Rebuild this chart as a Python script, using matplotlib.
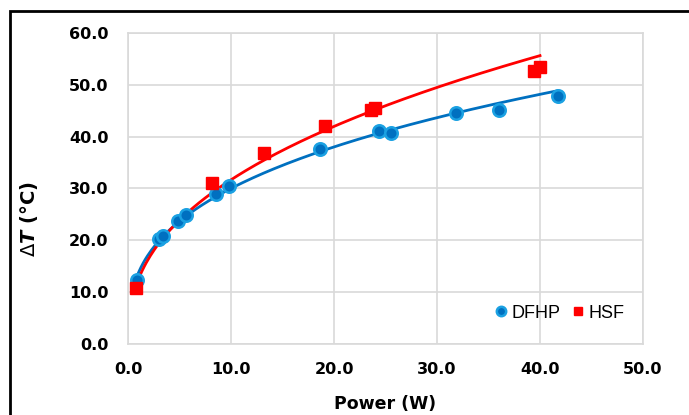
import numpy as np
import matplotlib
matplotlib.use('Agg')
import matplotlib.pyplot as plt
from matplotlib.patches import Rectangle

# DFHP data (power in W, temperature rise in °C)
dfhp_power = [0.85, 3.0, 3.35, 4.9, 5.6, 8.5, 9.8, 18.6, 24.4, 25.5, 31.8, 36.0, 41.7]
dfhp_dt = [12.4, 20.2, 20.8, 23.8, 24.9, 28.9, 30.4, 37.6, 41.1, 40.7, 44.6, 45.1, 47.9]

# HSF data
hsf_power = [0.8, 8.2, 13.2, 19.1, 23.6, 24.0, 39.4, 40.0]
hsf_dt = [10.9, 31.0, 36.9, 42.1, 45.1, 45.5, 52.6, 53.4]

plt.rcParams['font.family'] = ['DejaVu Sans']
plt.rcParams['mathtext.fontset'] = 'custom'
plt.rcParams['mathtext.rm'] = 'DejaVu Sans'
plt.rcParams['mathtext.it'] = 'DejaVu Sans:italic:bold'
plt.rcParams['mathtext.bf'] = 'DejaVu Sans:bold'

fig = plt.figure(figsize=(6.89, 4.15), dpi=100)
ax = fig.add_axes([128 / 689, 71 / 415, 515 / 689, 311 / 415])


def power_fit(x, y):
    # Excel-style power trendline: y = a * x^b
    b, loga = np.polyfit(np.log(x), np.log(y), 1)
    xs = np.linspace(min(x), max(x), 200)
    return xs, np.exp(loga) * xs ** b


blue = '#0070C0'
red = '#FF0000'

xs, ys = power_fit(dfhp_power, dfhp_dt)
ax.plot(xs, ys, color=blue, lw=2, zorder=2)
xs, ys = power_fit(hsf_power, hsf_dt)
ax.plot(xs, ys, color=red, lw=2, zorder=2)

ax.plot(dfhp_power, dfhp_dt, 'o', ms=9, mfc=blue, mec='#1BA1E2', mew=1.8,
        label='DFHP', zorder=3, linestyle='none')
ax.plot(hsf_power, hsf_dt, 's', ms=8, mfc=red, mec=red,
        label='HSF', zorder=3, linestyle='none')

ax.set_xlim(0, 50)
ax.set_ylim(0, 60)
ax.set_xticks(np.arange(0, 51, 10))
ax.set_yticks(np.arange(0, 61, 10))
ax.set_xticklabels(['%.1f' % v for v in np.arange(0, 51, 10)])
ax.set_yticklabels(['%.1f' % v for v in np.arange(0, 61, 10)])
ax.tick_params(length=0, labelsize=11.5, pad=14)
for lab in ax.get_xticklabels() + ax.get_yticklabels():
    lab.set_fontweight('bold')
ax.tick_params(axis='x', pad=13)

ax.grid(True, color='#D9D9D9', lw=1.2)
ax.set_axisbelow(True)
for s in ax.spines.values():
    s.set_color('#D9D9D9')
    s.set_linewidth(1.2)

ax.set_xlabel('Power (W)', fontsize=12.5, fontweight='bold', labelpad=13)
fig.text(28.5 / 689, 1 - 219 / 415, r'$\mathrm{\Delta}\mathit{T}$ (°C)', rotation=90,
         fontsize=14, fontweight='bold', ha='center', va='center')

leg = ax.legend(loc='lower right', frameon=False, ncol=2,
                prop={'family': 'Liberation Sans', 'size': 13},
                markerscale=0.75, handletextpad=0.15, columnspacing=0.6,
                handlelength=0.8, bbox_to_anchor=(0.995, 0.02))

# outer chart border (clipped at right and bottom)
fig.patches.append(Rectangle((10 / 689, -0.1), 1.2, 1 - 11 / 415 + 0.1,
                             transform=fig.transFigure, fill=False,
                             edgecolor='black', lw=2))

plt.savefig('out.png', dpi=100)
